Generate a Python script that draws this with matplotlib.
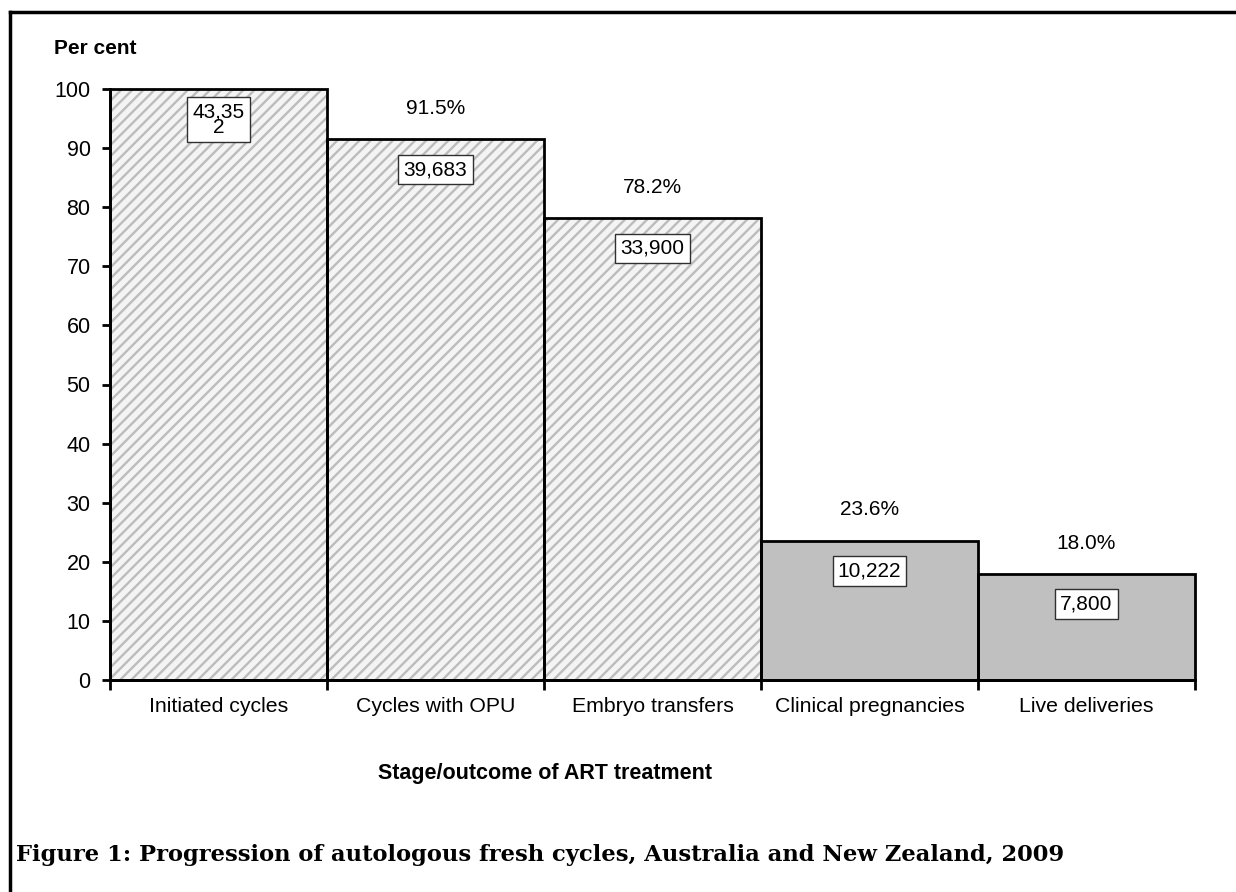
import numpy as np
import matplotlib
matplotlib.use("Agg")
import matplotlib.pyplot as plt
from matplotlib.lines import Line2D

# data
stages = ["Initiated cycles", "Cycles with OPU", "Embryo transfers",
          "Clinical pregnancies", "Live deliveries"]
percent = [100.0, 91.5, 78.2, 23.6, 18.0]
pct_labels = ["", "91.5%", "78.2%", "23.6%", "18.0%"]
counts = ["43,35\n2", "39,683", "33,900", "10,222", "7,800"]
hatched = [True, True, True, False, False]

plt.rcParams['font.family'] = ['Liberation Sans', 'DejaVu Sans']
plt.rcParams['hatch.linewidth'] = 1.7

fig = plt.figure(figsize=(12.36, 8.92), dpi=100)
ax = fig.add_axes([110/1236, 1-680/892, (1195-110)/1236, (680-89)/892])

x = np.arange(len(stages))
for i in range(len(stages)):
    if hatched[i]:
        # hatch drawn in grey, outline drawn on top in black
        ax.bar(x[i], percent[i], width=1.0, align='center', color='#f4f4f4',
               edgecolor='#bcbcbc', hatch='///', linewidth=0, zorder=2)
    else:
        ax.bar(x[i], percent[i], width=1.0, color='#c0c0c0', linewidth=0, zorder=2)
    ax.bar(x[i], percent[i], width=1.0, facecolor='none', edgecolor='black',
           linewidth=2, zorder=3, clip_on=False)

    if pct_labels[i]:
        ax.annotate(pct_labels[i], (x[i], percent[i]), xytext=(0, 22),
                    textcoords='offset points', ha='center', va='center',
                    fontsize=15)
    ax.annotate(counts[i], (x[i], percent[i]), xytext=(0, -22),
                textcoords='offset points', ha='center', va='center',
                fontsize=15, linespacing=0.8, zorder=5,
                bbox=dict(boxstyle='square,pad=0.25', facecolor='white',
                          edgecolor='#303030', linewidth=1))

ax.set_xlim(-0.5, len(stages) - 0.5)
ax.set_ylim(0, 100)
ax.set_yticks(np.arange(0, 101, 10))
ax.tick_params(axis='y', direction='out', length=6, width=2, labelsize=15.5, pad=8)

# ticks at the bar boundaries, labels at the centres
ax.set_xticks(np.arange(-0.5, len(stages)), labels=[""] * (len(stages) + 1))
ax.set_xticks(x, labels=stages, minor=True)
ax.tick_params(axis='x', which='major', direction='out', length=7, width=2)
ax.tick_params(axis='x', which='minor', length=0, labelsize=15.3, pad=12)

for s in ['top', 'right']:
    ax.spines[s].set_visible(False)
for s in ['left', 'bottom']:
    ax.spines[s].set_linewidth(2)

fig.text(54/1236, 1-48/892, "Per cent", fontsize=15, fontweight='bold',
         ha='left', va='center')
fig.text(545/1236, 1-773/892, "Stage/outcome of ART treatment", fontsize=15.5,
         fontweight='bold', ha='center', va='center')
fig.text(16/1236, 1-855/892,
         "Figure 1: Progression of autologous fresh cycles, Australia and New Zealand, 2009",
         fontsize=16.3, fontweight='bold', family=['DejaVu Serif'], ha='left', va='center')

# frame around the figure (only top and left visible)
fig.add_artist(Line2D([10/1236, 1], [1-12/892, 1-12/892], color='black', linewidth=2.5,
                      transform=fig.transFigure))
fig.add_artist(Line2D([10/1236, 10/1236], [0, 1-12/892], color='black', linewidth=2.5,
                      transform=fig.transFigure))

fig.savefig("out.png", dpi=100)
